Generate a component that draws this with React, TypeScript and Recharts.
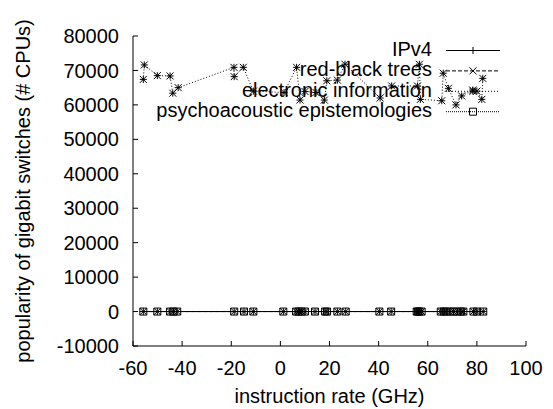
import { Label, Legend, Line, LineChart, XAxis, YAxis } from "recharts";

const xTicks = [-60, -40, -20, 0, 20, 40, 60, 80, 100];
const yTicks = [-10000, 0, 10000, 20000, 30000, 40000, 50000, 60000, 70000, 80000];

// points sitting on the zero line
const baseRate = [
  -55.8, -50.1, -44.9, -43.6, -42, -18.8, -14.8, -11, 1.2, 6.4, 7.4, 8.6, 10, 14.1, 18.2, 19,
  23.2, 26.6, 40.3, 45.1, 55.5, 56, 56.6, 57.5, 65.3, 66.5, 67.5, 69, 70.5, 72, 73.5, 74.5,
  78.6, 80, 82.6,
];
const ipv4Values = [
  0, 0, 0, 0, 0, 0, 0, 0, 0, 0, 0, 0, 0, 0, 0, 0, 0, 0, 0, 0, 0, 0, 0, 0, 0, 0, 0, 0, 0, 0, 0, 0,
  0, 0, 0,
];
const redBlackValues = [
  0, 0, 0, 0, 0, 0, 0, 0, 0, 0, 0, 0, 0, 0, 0, 0, 0, 0, 0, 0, 0, 0, 0, 0, 0, 0, 0, 0, 0, 0, 0, 0,
  0, 0, 0,
];
const psychoValues = [
  0, 0, 0, 0, 0, 0, 0, 0, 0, 0, 0, 0, 0, 0, 0, 0, 0, 0, 0, 0, 0, 0, 0, 0, 0, 0, 0, 0, 0, 0, 0, 0,
  0, 0, 0,
];

// the upper trace
const electronicRate = [
  -55.8, -55.4, -50.1, -44.9, -43.8, -41.6, -18.9, -18.8, -15.1, -11, 1.5, 6.6, 8, 10, 14.5, 17.9,
  18.9, 23.2, 26.3, 40.6, 45.3, 55.8, 56.6, 57, 65.7, 66.3, 68.4, 71.5, 73.8, 78.3, 80, 82, 82.4,
];
const electronicValues = [
  67400, 71600, 68500, 68400, 63400, 65000, 70900, 68200, 70900, 64000, 63600, 70900, 61400, 63900,
  63600, 61400, 67000, 67200, 71800, 62000, 65500, 65500, 71800, 61600, 61200, 69200, 64800, 60000,
  62600, 64300, 64000, 61600, 67700,
];

const ipv4Data = baseRate.map((x, i) => ({ x, y: ipv4Values[i] }));
const redBlackData = baseRate.map((x, i) => ({ x, y: redBlackValues[i] }));
const psychoData = baseRate.map((x, i) => ({ x, y: psychoValues[i] }));
const electronicData = electronicRate.map((x, i) => ({ x, y: electronicValues[i] }));

const FONT = "'Liberation Sans', Arial, sans-serif";
const FS = 20;
const S = 3.5;

type Kind = "plus" | "cross" | "star" | "box";

function markerPath(kind: Kind, cx: number, cy: number) {
  const plus = `M${cx - S},${cy}H${cx + S}M${cx},${cy - S}V${cy + S}`;
  const cross = `M${cx - S},${cy - S}L${cx + S},${cy + S}M${cx - S},${cy + S}L${cx + S},${cy - S}`;
  if (kind === "plus") return plus;
  if (kind === "cross") return cross;
  if (kind === "star") return plus + cross;
  return `M${cx - S},${cy - S}H${cx + S}V${cy + S}H${cx - S}Z`;
}

const makeDot = (kind: Kind) => (props: any) => {
  const { cx, cy, index } = props;
  if (cx == null || cy == null) return <g key={index} />;
  return <path key={index} d={markerPath(kind, cx, cy)} stroke="#000" strokeWidth={1} fill="none" />;
};

const legendRows: { name: string; kind: Kind; dash?: string }[] = [
  { name: "IPv4", kind: "plus" },
  { name: "red-black trees", kind: "cross", dash: "4 2" },
  { name: "electronic information", kind: "star", dash: "1 2" },
  { name: "psychoacoustic epistemologies", kind: "box", dash: "1 1" },
];

function KeyBox() {
  return (
    <svg width={553} height={130} style={{ display: "block" }}>
      {legendRows.map((r, i) => {
        const base = 56 + i * 20.4;
        const ly = base - 5.5;
        return (
          <g key={r.name}>
            <text x={432} y={base} textAnchor="end" fontSize={FS} fontFamily={FONT} fill="#000">
              {r.name}
            </text>
            <line x1={446} x2={500} y1={ly} y2={ly} stroke="#000" strokeDasharray={r.dash} />
            <path d={markerPath(r.kind, 473, ly)} stroke="#000" fill="none" />
          </g>
        );
      })}
    </svg>
  );
}

const tickStyle = { fill: "#000", fontSize: FS, fontFamily: FONT };

export default function App() {
  return (
    <div style={{ position: "absolute", left: 0, top: 0, width: 553, height: 409, background: "#fff" }}>
      <LineChart width={553} height={409} margin={{ top: 36, right: 27, bottom: 0, left: 0 }}>
        <XAxis
          xAxisId="b"
          type="number"
          dataKey="x"
          domain={[-60, 100]}
          ticks={xTicks}
          allowDataOverflow
          height={63}
          stroke="#000"
          tickSize={-5}
          tickMargin={20}
          tick={tickStyle}
        >
          <Label
            content={() => (
              <text x={329.5} y={403} textAnchor="middle" fontSize={FS} fontFamily={FONT} fill="#000">
                instruction rate (GHz)
              </text>
            )}
          />
        </XAxis>
        <XAxis
          xAxisId="t"
          orientation="top"
          type="number"
          dataKey="x"
          domain={[-60, 100]}
          ticks={xTicks}
          allowDataOverflow
          height={0}
          stroke="#000"
          tickSize={-5}
          tick={false}
        />
        <YAxis
          yAxisId="l"
          type="number"
          domain={[-10000, 80000]}
          ticks={yTicks}
          allowDataOverflow
          width={133}
          stroke="#000"
          tickSize={-5}
          tickMargin={19}
          tick={tickStyle}
          interval={0}
        >
          <Label
            content={() => (
              <text
                x={30}
                y={191}
                transform="rotate(-90, 30, 191)"
                textAnchor="middle"
                fontSize={FS}
                fontFamily={FONT}
                fill="#000"
              >
                popularity of gigabit switches  (# CPUs)
              </text>
            )}
          />
        </YAxis>
        <YAxis
          yAxisId="r"
          orientation="right"
          type="number"
          domain={[-10000, 80000]}
          ticks={yTicks}
          allowDataOverflow
          width={0}
          stroke="#000"
          tickSize={-5}
          tick={false}
        />
        <Legend
          layout="vertical"
          align="center"
          verticalAlign="middle"
          content={() => <KeyBox />}
          wrapperStyle={{ position: "absolute", left: 0, top: 0, width: 553, height: 130 }}
        />
        <Line
          xAxisId="b"
          yAxisId="l"
          data={ipv4Data}
          dataKey="y"
          name="IPv4"
          stroke="#000"
          strokeWidth={1}
          dot={makeDot("plus")}
          isAnimationActive={false}
        />
        <Line
          xAxisId="b"
          yAxisId="l"
          data={redBlackData}
          dataKey="y"
          name="red-black trees"
          stroke="#000"
          strokeWidth={1}
          strokeDasharray="4 2"
          dot={makeDot("cross")}
          isAnimationActive={false}
        />
        <Line
          xAxisId="b"
          yAxisId="l"
          data={electronicData}
          dataKey="y"
          name="electronic information"
          stroke="#000"
          strokeWidth={1}
          strokeDasharray="1 2"
          dot={makeDot("star")}
          isAnimationActive={false}
        />
        <Line
          xAxisId="b"
          yAxisId="l"
          data={psychoData}
          dataKey="y"
          name="psychoacoustic epistemologies"
          stroke="#000"
          strokeWidth={1}
          strokeDasharray="1 1"
          dot={makeDot("box")}
          isAnimationActive={false}
        />
      </LineChart>
    </div>
  );
}
